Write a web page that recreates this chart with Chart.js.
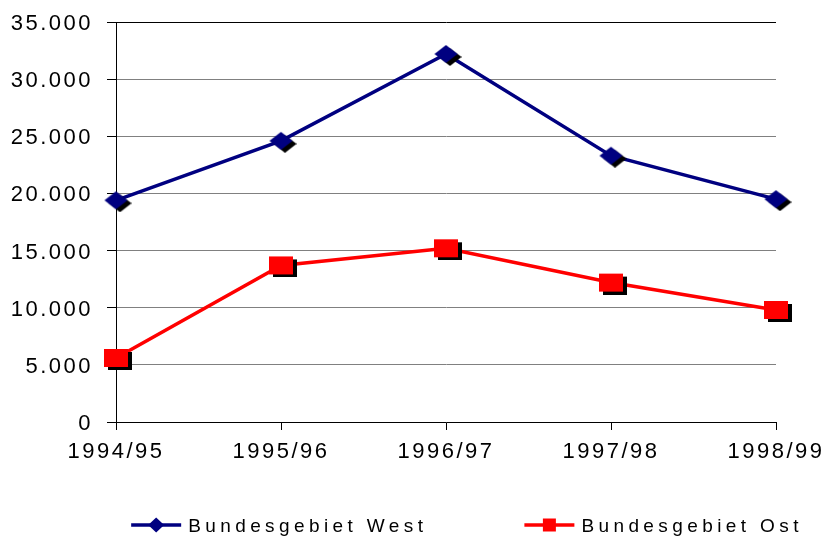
<!DOCTYPE html>
<html>
<head>
<meta charset="utf-8">
<script src="https://cdn.jsdelivr.net/npm/chart.js@4/dist/chart.umd.min.js"></script>
<style>
  html, body { margin: 0; padding: 0; background: #fff; }
  canvas { display: block; }
</style>
</head>
<body>
<canvas id="chart" width="823" height="537"></canvas>
<script>
// Chart data
const years = ["1994/95", "1995/96", "1996/97", "1997/98", "1998/99"];
const west = [19400, 24600, 32200, 23300, 19500];
const ost = [5600, 13700, 15200, 12200, 9800];
const seriesNames = ["Bundesgebiet West", "Bundesgebiet Ost"];

const FONT = '"Liberation Sans", Arial, sans-serif';

// German thousands separator: 35000 -> "35.000"
function formatDe(v) {
  return String(v).replace(/\B(?=(\d{3})+(?!\d))/g, ".");
}

function drawShape(g, shape, cx, cy, w, h, color) {
  g.fillStyle = color;
  g.beginPath();
  if (shape === "diamond") {
    g.moveTo(cx, cy - h / 2);
    g.lineTo(cx + w / 2, cy);
    g.lineTo(cx, cy + h / 2);
    g.lineTo(cx - w / 2, cy);
  } else {
    g.rect(cx - w / 2, cy - h / 2, w, h);
  }
  g.closePath();
  g.fill();
}

// Marker with a black drop shadow, used as point style
function makeMarker(shape, color, w, h, dx, dy) {
  const c = document.createElement("canvas");
  c.width = w + 2 * dx;
  c.height = h + 2 * dy;
  const g = c.getContext("2d");
  const cx = c.width / 2, cy = c.height / 2;
  drawShape(g, shape, cx + dx, cy + dy, w, h, "#000");
  drawShape(g, shape, cx, cy, w, h, color);
  return c;
}

const westMarker = makeMarker("diamond", "#000080", 23, 18, 4, 3);
const ostMarker = makeMarker("square", "#ff0000", 24, 18, 4, 3);

// Canvas text in the picture is widely spaced
const spacing = {
  id: "spacing",
  beforeUpdate(chart) { chart.ctx.letterSpacing = "2.5px"; },
  beforeDraw(chart) { chart.ctx.letterSpacing = "2.5px"; }
};

// Legend with line + marker, drawn below the plot
const lineLegend = {
  id: "lineLegend",
  afterDraw(chart) {
    const ctx = chart.ctx;
    const items = [
      { text: seriesNames[0], color: "#000080", shape: "diamond", w: 16, h: 15 },
      { text: seriesNames[1], color: "#ff0000", shape: "square", w: 13, h: 13 }
    ];
    ctx.save();
    ctx.font = "19px " + FONT;
    ctx.letterSpacing = "4.4px";
    ctx.textBaseline = "middle";
    const lineW = 50, textGap = 7, gap = 97;
    const widths = items.map(it => lineW + textGap + ctx.measureText(it.text).width);
    const total = widths.reduce((a, b) => a + b, 0) + gap * (items.length - 1);
    const area = chart.chartArea;
    let x = (area.left + area.right) / 2 + 21 - total / 2;
    const y = chart.height - 12;
    items.forEach((it, i) => {
      ctx.strokeStyle = it.color;
      ctx.lineWidth = 3.5;
      ctx.beginPath();
      ctx.moveTo(x, y);
      ctx.lineTo(x + lineW, y);
      ctx.stroke();
      drawShape(ctx, it.shape, x + lineW / 2, y, it.w, it.h, it.color);
      ctx.fillStyle = "#000";
      ctx.fillText(it.text, x + lineW + textGap, y + 2);
      x += widths[i] + gap;
    });
    ctx.restore();
  }
};

const chart = new Chart(document.getElementById("chart"), {
  type: "line",
  data: {
    labels: years,
    datasets: [
      {
        label: seriesNames[0],
        data: west,
        borderColor: "#000080",
        backgroundColor: "#000080",
        borderWidth: 3.5,
        tension: 0,
        pointStyle: westMarker,
        pointRadius: 10,
        clip: false
      },
      {
        label: seriesNames[1],
        data: ost,
        borderColor: "#ff0000",
        backgroundColor: "#ff0000",
        borderWidth: 3.5,
        tension: 0,
        pointStyle: ostMarker,
        pointRadius: 10,
        clip: false
      }
    ]
  },
  options: {
    responsive: false,
    animation: false,
    layout: { padding: { top: 22, right: 0, bottom: 75, left: 0 } },
    plugins: {
      legend: { display: false },
      tooltip: { enabled: false }
    },
    scales: {
      x: {
        offset: false,
        grid: { drawOnChartArea: false, drawTicks: true, tickLength: 8, tickColor: "#000" },
        border: { color: "#000", width: 1 },
        ticks: { color: "#000", font: { family: FONT, size: 22 }, padding: 9, maxRotation: 0, autoSkip: false },
        afterFit(scale) {
          scale.height = 40;
          scale.paddingLeft = 0;
          scale.paddingRight = 47;
        }
      },
      y: {
        min: 0,
        max: 35000,
        grid: {
          color: ctx => (ctx.tick && ctx.tick.value === 35000 ? "#000" : "#808080"),
          tickLength: 9,
          tickColor: "#000"
        },
        border: { color: "#000", width: 1 },
        ticks: {
          stepSize: 5000,
          color: "#000",
          font: { family: FONT, size: 22 },
          padding: 14,
          labelOffset: 2,
          callback: v => formatDe(v)
        },
        afterFit(scale) {
          scale.width = 116;
          scale.paddingTop = 0;
          scale.paddingBottom = 0;
        }
      }
    }
  },
  plugins: [spacing, lineLegend]
});
</script>
</body>
</html>
